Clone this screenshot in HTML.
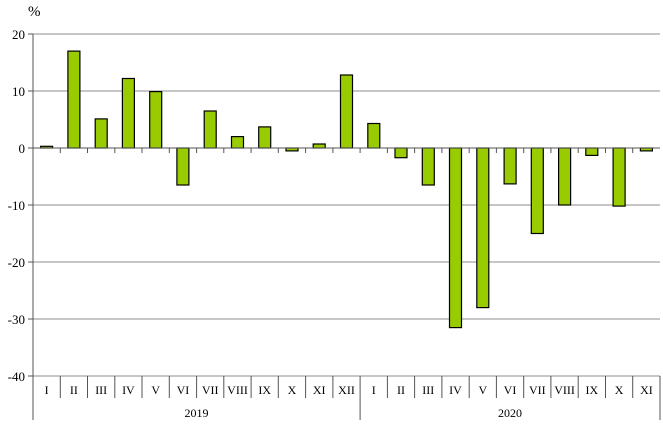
<!DOCTYPE html>
<html><head><meta charset="utf-8"><style>
html,body{margin:0;padding:0;background:#fff;}
svg{display:block;font-family:"Liberation Serif",serif;}
</style></head><body>
<svg width="663" height="430" viewBox="0 0 663 430">
<g stroke="#8c8c8c" stroke-width="1">
<line x1="33" y1="34" x2="660" y2="34"/><line x1="33" y1="91" x2="660" y2="91"/>
<line x1="33" y1="205" x2="660" y2="205"/><line x1="33" y1="262" x2="660" y2="262"/>
<line x1="33" y1="319" x2="660" y2="319"/><line x1="33" y1="376" x2="660" y2="376"/>
</g>
<g stroke="#000" stroke-width="1.2" fill="#99cc00">
<rect x="40.6" y="146.3" width="12" height="1.7"/>
<rect x="67.9" y="51.1" width="12" height="96.9"/>
<rect x="95.2" y="118.9" width="12" height="29.1"/>
<rect x="122.4" y="78.5" width="12" height="69.5"/>
<rect x="149.7" y="91.6" width="12" height="56.4"/>
<rect x="176.9" y="148" width="12" height="37"/>
<rect x="204.2" y="111" width="12" height="37"/>
<rect x="231.5" y="136.6" width="12" height="11.4"/>
<rect x="258.7" y="126.9" width="12" height="21.1"/>
<rect x="286.0" y="148" width="12" height="2.9"/>
<rect x="313.2" y="144" width="12" height="4"/>
<rect x="340.5" y="75" width="12" height="73"/>
<rect x="367.8" y="123.5" width="12" height="24.5"/>
<rect x="395.0" y="148" width="12" height="9.7"/>
<rect x="422.3" y="148" width="12" height="37"/>
<rect x="449.5" y="148" width="12" height="179.6"/>
<rect x="476.8" y="148" width="12" height="159.6"/>
<rect x="504.1" y="148" width="12" height="35.9"/>
<rect x="531.3" y="148" width="12" height="85.5"/>
<rect x="558.6" y="148" width="12" height="57"/>
<rect x="585.8" y="148" width="12" height="7.4"/>
<rect x="613.1" y="148" width="12" height="58.1"/>
<rect x="640.4" y="148" width="12" height="2.9"/>
</g>
<g stroke="#555" stroke-width="1">
<line x1="33" y1="148" x2="660" y2="148"/>
<line x1="33" y1="34" x2="33" y2="420"/>
<line x1="360.1" y1="376" x2="360.1" y2="420"/>
<line x1="660" y1="376" x2="660" y2="420"/>
<line x1="28" y1="34" x2="33" y2="34"/><line x1="28" y1="91" x2="33" y2="91"/><line x1="28" y1="148" x2="33" y2="148"/>
<line x1="28" y1="205" x2="33" y2="205"/><line x1="28" y1="262" x2="33" y2="262"/><line x1="28" y1="319" x2="33" y2="319"/><line x1="28" y1="376" x2="33" y2="376"/>
<path d="M60.3 148v5M87.5 148v5M114.8 148v5M142 148v5M169.3 148v5M196.6 148v5M223.8 148v5M251.1 148v5M278.3 148v5M305.6 148v5M332.9 148v5M360.1 148v5M387.4 148v5M414.6 148v5M441.9 148v5M469.2 148v5M496.4 148v5M523.7 148v5M550.9 148v5M578.2 148v5M605.5 148v5M632.7 148v5"/>
<path d="M60.3 376v22M87.5 376v22M114.8 376v22M142 376v22M169.3 376v22M196.6 376v22M223.8 376v22M251.1 376v22M278.3 376v22M305.6 376v22M332.9 376v22M387.4 376v22M414.6 376v22M441.9 376v22M469.2 376v22M496.4 376v22M523.7 376v22M550.9 376v22M578.2 376v22M605.5 376v22M632.7 376v22"/>
</g>
<g font-size="13" fill="#000" text-anchor="end">
<text x="25" y="39">20</text><text x="25" y="96">10</text><text x="25" y="153">0</text>
<text x="25" y="210">-10</text><text x="25" y="267">-20</text><text x="25" y="324">-30</text><text x="25" y="381">-40</text>
</g>
<text x="28" y="16" font-size="15">%</text>
<g font-size="12" fill="#000" text-anchor="middle">
<text x="46.6" y="394">I</text><text x="73.9" y="394">II</text><text x="101.2" y="394">III</text><text x="128.4" y="394">IV</text>
<text x="155.7" y="394">V</text><text x="182.9" y="394">VI</text><text x="210.2" y="394">VII</text><text x="237.5" y="394">VIII</text>
<text x="264.7" y="394">IX</text><text x="292" y="394">X</text><text x="319.2" y="394">XI</text><text x="346.5" y="394">XII</text>
<text x="373.8" y="394">I</text><text x="401" y="394">II</text><text x="428.3" y="394">III</text><text x="455.5" y="394">IV</text>
<text x="482.8" y="394">V</text><text x="510" y="394">VI</text><text x="537.3" y="394">VII</text><text x="564.6" y="394">VIII</text>
<text x="591.8" y="394">IX</text><text x="619.1" y="394">X</text><text x="646.4" y="394">XI</text>
<text x="196.5" y="417">2019</text><text x="510" y="417">2020</text>
</g>
</svg>
</body></html>
